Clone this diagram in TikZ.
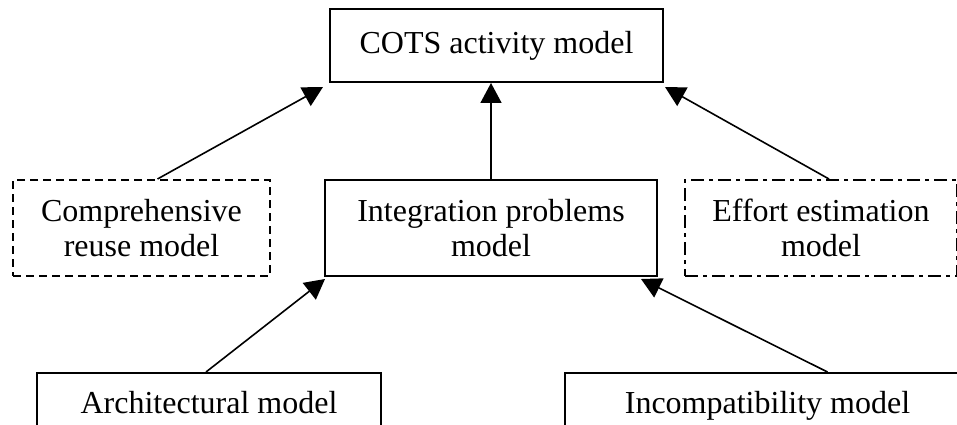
\documentclass[tikz,border=0pt]{standalone}
\usepackage{fontspec}
\setmainfont{Liberation Serif}
\usetikzlibrary{arrows.meta,calc}

\tikzset{
  box/.style={draw=black, line width=2pt, fill=white, align=center,
    inner sep=0pt, font=\fontsize{32}{35}\selectfont},
  dashedbox/.style={box, dash pattern=on 8pt off 5pt},
  dashdotbox/.style={box, dash pattern=on 13pt off 5pt on 4pt off 5pt},
  link/.style={line width=1.6pt, -{Triangle[length=20pt,width=21pt]}, shorten >=0pt},
}

\begin{document}
\begin{tikzpicture}[x=1pt, y=-1pt]
  \useasboundingbox (0,0) rectangle (957,425);
  \clip (0,0) rectangle (957,425);

  % top level
  \node[box, minimum width=333, minimum height=73] (cots) at (496.5,45.5) {COTS activity model};

  % middle level
  \node[dashedbox, minimum width=257, minimum height=96] (comp) at (141.5,228) {Comprehensive\\reuse model};
  \node[box, minimum width=332, minimum height=96] (integ) at (491,228) {Integration problems\\model};
  \node[dashdotbox, minimum width=272, minimum height=96] (effort) at (821,228) {Effort estimation\\model};

  % bottom level (runs past the lower edge)
  \node[box, anchor=north, minimum width=344, text height=22, text depth=40, inner ysep=18]
    (arch) at (209,372) {Architectural model};
  \node[box, anchor=north, minimum width=405, text height=22, text depth=40, inner ysep=18]
    (incomp) at (767.5,372) {Incompatibility model};

  % connectors
  \draw[link] ([xshift=16pt]comp.north) -- ($(cots.south west)+(-6,4)$);
  \draw[link] (integ.north) -- (integ.north |- cots.south);
  \draw[link] ([xshift=8pt]effort.north) -- ($(cots.south east)+(1,4)$);
  \draw[link] ([xshift=-3pt]arch.north) -- ($(integ.south west)+(1,2)$);
  \draw[link] ([xshift=60pt]incomp.north) -- ($(integ.south east)+(-17,2)$);
\end{tikzpicture}
\end{document}
